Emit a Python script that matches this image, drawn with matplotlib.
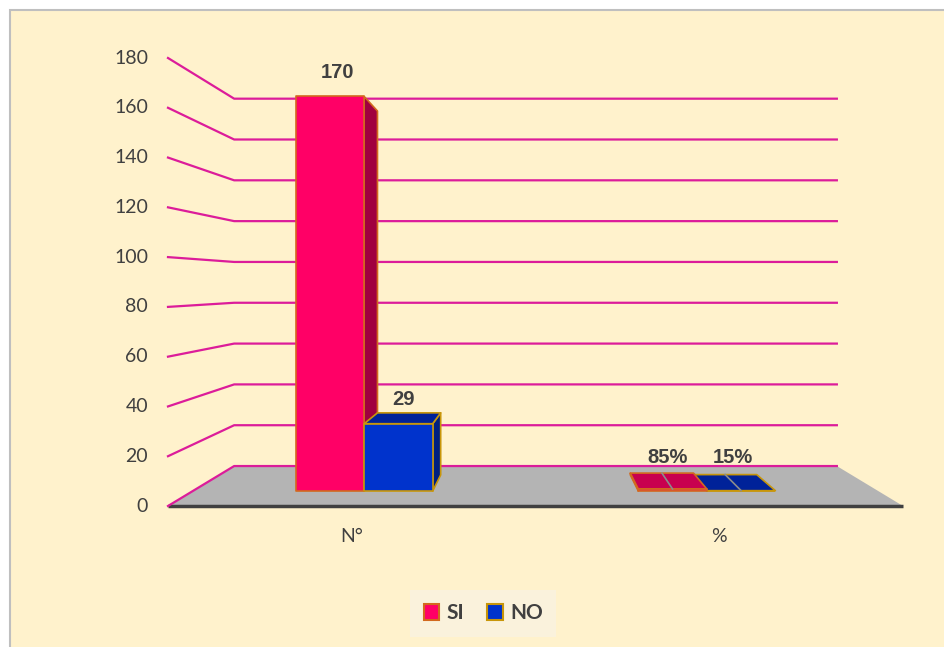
import matplotlib.pyplot as plt
from matplotlib.patches import Polygon, Patch, Rectangle

# data
categories = ['N°', '%']
si_values = [170, 0.85]
no_values = [29, 0.15]
label_formats = ['{:.0f}', '{:.0%}']
series_names = ['SI', 'NO']
yticks = list(range(0, 181, 20))
ymax = 180

# pseudo-3D layout (pixels)
X0, X1 = 168, 903          # front edge of floor
Y0, YTOP = 506, 58         # front value 0 / value 180
VX, VY = 535.5, 284        # vanishing point
K_BACK = 0.82              # depth factor of the back wall
K_FRONT_BAR, K_BACK_BAR = 0.9325, 0.86
BAR_W = 0.2

grid_col = '#DC1C9A'
text_col = '#404040'
styles = {
    'SI': dict(front='#FF0066', side='#A0003F', top='#C8004F', edge='#D2691E'),
    'NO': dict(front='#0033CC', side='#002080', top='#002299', edge='#C8960A'),
}


def front(xc, v):
    return X0 + xc * (X1 - X0) / len(categories), Y0 - v * (Y0 - YTOP) / ymax


def proj(p, k):
    return VX + (p[0] - VX) * k, VY + (p[1] - VY) * k


fig = plt.figure(figsize=(9.44, 6.47), dpi=100, facecolor='white')
ax = fig.add_axes([0, 0, 1, 1])
ax.set_xlim(0, 944)
ax.set_ylim(647, 0)
ax.axis('off')

ax.add_patch(Rectangle((10, 10), 960, 660, facecolor='#FFF2CC', edgecolor='#BFBFBF', lw=1.5, zorder=0))

# floor
n = len(categories)
fl, fr = front(0, 0), front(n, 0)
back_y = proj(fl, K_BACK)[1]
ax.add_patch(Polygon([fl, fr, proj(fr, K_BACK), proj(fl, K_BACK)], closed=True,
                     facecolor='#B4B4B4', edgecolor='none', zorder=1))
ax.plot([fl[0], fr[0]], [fl[1], fr[1]], color='#404040', lw=2.5, zorder=2, solid_capstyle='butt')

# gridlines (left wall diagonals + back wall)
for v in yticks:
    a, b = front(0, v), front(n, v)
    pa, pb = proj(a, K_BACK), proj(b, K_BACK)
    ax.plot([a[0], pa[0], pb[0]], [a[1], pa[1], pb[1]], color=grid_col, lw=1.6, zorder=2)
    ax.text(a[0] - 20, a[1], str(v), ha='right', va='center', fontsize=14,
            family='Lato', color=text_col)

# category labels
for i, cat in enumerate(categories):
    x, _ = front(i + 0.5, 0)
    ax.text(x, 537, cat, ha='center', va='center', fontsize=14, family='Lato', color=text_col)

# bars
bars = []
for i in range(n):
    c = i + 0.5
    bars.append((c - BAR_W, c, si_values[i], 'SI', label_formats[i]))
    bars.append((c, c + BAR_W, no_values[i], 'NO', label_formats[i]))
bars.sort(key=lambda b: -abs(front((b[0] + b[1]) / 2, 0)[0] - VX))

for x0, x1, v, name, fmt in bars:
    st = styles[name]
    p00, p10 = front(x0, 0), front(x1, 0)
    p01, p11 = front(x0, v), front(x1, v)
    kf, kb = K_FRONT_BAR, K_BACK_BAR
    kw = dict(edgecolor=st['edge'], lw=1.2, closed=True, zorder=3, joinstyle='round')
    # side face
    if p10[0] < VX:
        ax.add_patch(Polygon([proj(p10, kf), proj(p11, kf), proj(p11, kb), proj(p10, kb)],
                             facecolor=st['side'], **kw))
    elif p00[0] > VX:
        ax.add_patch(Polygon([proj(p00, kf), proj(p01, kf), proj(p01, kb), proj(p00, kb)],
                             facecolor=st['side'], **kw))
    # top face
    if p01[1] > VY:
        ax.add_patch(Polygon([proj(p01, kf), proj(p11, kf), proj(p11, kb), proj(p01, kb)],
                             facecolor=st['top'], **kw))
        mx = [proj(front((x0 + x1) / 2, v), k) for k in (kf, kb)]
        if v < 5:
            ax.plot([mx[0][0], mx[1][0]], [mx[0][1], mx[1][1]], color='#8C8C8C', lw=1.2, zorder=3.5)
    # front face
    ax.add_patch(Polygon([proj(p00, kf), proj(p10, kf), proj(p11, kf), proj(p01, kf)],
                         facecolor=st['front'], **kw))
    # value label
    mid = front((x0 + x1) / 2, v)
    lx, _ = proj(mid, (kf + kb) / 2)
    _, ly = proj(mid, kf)
    ly = min(ly - 24, back_y - 9)
    ax.text(lx, ly, fmt.format(v), ha='center', va='center', fontsize=14.5,
            fontweight='bold', family='Liberation Sans', color=text_col, zorder=4)

# legend
handles = [Patch(facecolor=styles[s]['front'], edgecolor=styles[s]['edge'], lw=1.5, label=s)
           for s in series_names]
leg = fig.legend(handles=handles, loc='center', bbox_to_anchor=(0.512, 0.052), ncol=2,
                 frameon=True, fancybox=False, handlelength=0.75, handleheight=0.75,
                 handletextpad=0.35, columnspacing=1.1, borderpad=0.65,
                 prop=dict(family='Lato', weight='bold', size=15))
leg.get_frame().set_facecolor('#FAF2DC')
leg.get_frame().set_edgecolor('none')
leg.get_frame().set_alpha(1)
for t in leg.get_texts():
    t.set_color(text_col)

fig.savefig('out.png', dpi=100, facecolor=fig.get_facecolor())
